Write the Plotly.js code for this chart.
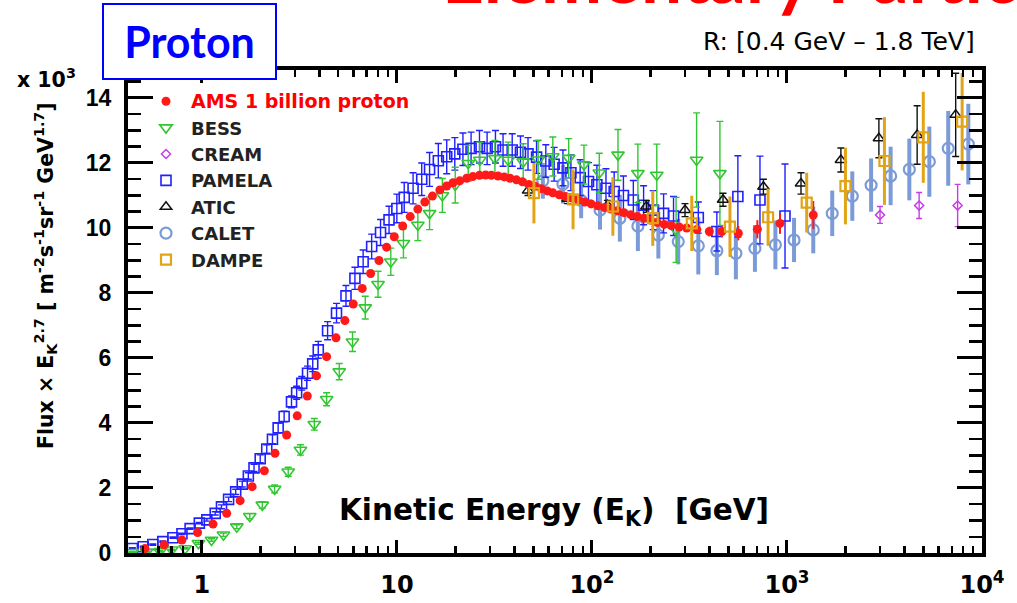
<!DOCTYPE html>
<html>
<head>
<meta charset="utf-8">
<script src="https://cdn.plot.ly/plotly-3.0.1.min.js"></script>
<style>html,body{margin:0;padding:0;background:#fff;}#chart{width:1017px;height:603px;}</style>
</head>
<body>
<div id="chart"></div>
<script>
// ---------------- data ----------------
const amsE = [0.51,0.64,0.79,0.95,1.14,1.34,1.57,1.81,2.09,2.37,2.72,3.08,3.47,3.87,4.36,4.87,5.41,5.97,6.64,7.33,
  8.09,8.85,9.69,10.7,11.7,12.8,13.9,15.2,16.6,18.0,19.4,21.0,22.8,
  24.5,26.5,28.5,30.5,33,35.5,38,41,44,47.5,51,55,59,63,68,73,79,85,92,99,
  107,116,125,135,146,158,171,185,200,216,235,255,280,306,345,400,463,563,705,921,1364];
const amsF = [0.14,0.25,0.40,0.63,0.89,1.22,1.61,2.04,2.53,3.07,3.63,4.22,4.83,5.45,6.04,6.62,7.15,7.66,8.14,8.60,
  9.00,9.41,9.73,10.06,10.35,10.58,10.80,10.98,11.17,11.29,11.39,11.45,11.53,
  11.58,11.62,11.63,11.62,11.60,11.57,11.53,11.48,11.42,11.34,11.28,11.21,11.14,11.08,11.02,10.97,10.92,10.86,10.80,10.74,
  10.68,10.63,10.58,10.53,10.47,10.41,10.35,10.30,10.24,10.17,10.11,10.07,10.03,10.00,9.95,9.89,9.89,9.84,9.96,10.14,10.40];
const amsErr = [0.05,0.05,0.05,0.05,0.05,0.05,0.05,0.05,0.05,0.05,0.05,0.05,0.05,0.05,0.05,0.05,0.05,0.05,0.05,0.05,
  0.05,0.05,0.05,0.05,0.05,0.05,0.05,0.05,0.05,0.05,0.05,0.05,0.05,
  0.05,0.05,0.05,0.05,0.05,0.05,0.05,0.05,0.05,0.05,0.05,0.05,0.05,0.05,0.05,0.05,0.05,0.05,0.05,0.05,
  0.05,0.05,0.05,0.05,0.05,0.05,0.05,0.05,0.05,0.05,0.05,0.05,0.05,0.05,0.12,0.15,0.18,0.22,0.28,0.32,0.43];

const bessE = [0.44,0.52,0.61,0.70,0.82,0.96,1.12,1.29,1.51,1.76,2.04,2.36,2.77,3.20,3.77,4.36,5.06,5.92,6.88,8.0,
  9.3,10.8,12.8,14.7,17.1,19.9,23.2,26.6,31.8,37.2,44.4,53,63,76,91,109,136,172,215,270,344,453];
const bessF = [0.02,0.03,0.05,0.10,0.14,0.30,0.40,0.56,0.81,1.13,1.48,1.97,2.50,3.17,3.96,4.73,5.58,6.50,7.55,8.27,
  8.96,9.53,10.09,10.45,11.00,11.32,11.99,12.09,12.14,12.09,12.04,12.10,12.20,12.15,11.95,11.70,12.25,11.68,11.63,9.94,12.09,11.68];
const bessErr = [0.02,0.02,0.02,0.02,0.02,0.03,0.04,0.05,0.06,0.08,0.10,0.12,0.14,0.16,0.18,0.20,0.25,0.30,0.35,0.40,
  0.42,0.45,0.48,0.50,0.52,0.55,0.55,0.55,0.55,0.55,0.55,0.60,0.60,0.60,0.60,0.60,0.78,0.90,0.95,1.00,1.45,1.60];

const creamE = [3000,4760,7500];
const creamF = [10.40,10.69,10.69];
const creamErr = [0.26,0.40,0.65];

const pamE = [0.44,0.50,0.56,0.63,0.71,0.79,0.87,0.97,1.06,1.17,1.26,1.37,1.49,1.61,1.73,1.85,1.99,
  2.15,2.30,2.46,2.64,2.88,3.06,3.25,3.48,3.70,3.95,4.41,4.90,5.48,6.09,6.71,7.42,8.24,9.11,9.99,10.9,
  12.1,13.4,14.7,16.3,18.0,19.8,21.8,24.0,26.5,29.0,32.0,35.0,39.0,43.0,47.0,52.0,58.0,
  64.0,71.0,78.0,87.0,96.0,106,118,130,145,163,184,206,233,262,351,437,560,727,977];
const pamF = [0.14,0.19,0.26,0.35,0.47,0.59,0.75,0.92,1.02,1.22,1.42,1.65,1.88,2.12,2.37,2.62,2.90,
  3.20,3.50,3.85,4.20,4.65,4.93,5.22,5.53,5.82,6.25,6.84,7.38,7.91,8.45,8.96,9.43,9.86,10.25,10.60,10.94,
  11.22,11.50,11.80,12.07,12.19,12.28,12.42,12.45,12.50,12.45,12.50,12.40,12.40,12.33,12.28,12.18,12.06,
  11.96,11.85,11.70,11.55,11.43,11.33,11.22,11.12,11.00,10.86,10.70,10.55,10.45,10.37,10.32,9.89,10.97,10.86,10.37];
const pamErr = [0.02,0.02,0.02,0.02,0.02,0.02,0.02,0.02,0.04,0.05,0.06,0.07,0.08,0.09,0.10,0.11,0.12,
  0.13,0.14,0.15,0.16,0.18,0.20,0.21,0.22,0.24,0.26,0.28,0.30,0.32,0.34,0.36,0.38,0.40,0.42,0.44,0.46,
  0.48,0.50,0.52,0.53,0.52,0.50,0.50,0.50,0.50,0.50,0.50,0.50,0.50,0.50,0.50,0.50,0.50,
  0.52,0.55,0.55,0.55,0.58,0.60,0.60,0.60,0.60,0.60,0.60,0.60,0.60,0.60,0.48,0.60,1.25,1.35,1.60];

const aticE = [47,75,120,190,300,470,757,1180,1890,2960,4650,7330];
const aticF = [11.15,10.90,10.70,10.66,10.55,10.87,11.27,11.37,12.09,12.76,12.86,13.48];
const aticErr = [0.15,0.15,0.15,0.18,0.20,0.20,0.23,0.33,0.37,0.60,0.90,1.28];

const caletE = [56,71,88,110,139,172,219,277,351,437,547,685,872,1087,1364,1706,2162,2700,3400,4240,5370,6710,8510];
const caletF = [11.45,11.35,10.85,10.55,10.30,10.06,9.78,9.58,9.45,9.30,9.22,9.37,9.48,9.63,9.94,10.45,10.98,11.32,11.60,11.80,12.04,12.45,12.58];
const caletErr = [0.55,0.60,0.55,0.60,0.72,0.77,0.72,0.70,0.88,0.75,0.80,0.72,0.75,0.68,0.72,0.70,0.76,0.82,0.90,0.95,1.08,1.15,1.24];

const dampeE = [50.4,80,128,205,325,510,800,1262,1994,3160,5000,7910];
const dampeF = [11.07,10.88,10.66,10.30,10.14,10.04,10.33,10.78,11.29,12.06,12.79,13.27];
const dampeErr = [0.93,0.92,0.90,0.85,0.85,0.93,0.88,0.92,1.18,1.35,1.40,1.50];

const xTickVals = [1,10,100,1000,10000];
const xTickText = ['1','10','10<sup>2</sup>','10<sup>3</sup>','10<sup>4</sup>'];

// ---------------- traces ----------------
function tr(name, x, y, err, rank, marker, ebColor, ebThick, ebWidth){
  return {type:'scatter', mode:'markers', name:name, x:x, y:y, legendrank:rank, legendgroup:'g'+rank,
    marker:marker,
    error_y:{type:'data', array:err, visible:true, color:ebColor, thickness:ebThick, width:ebWidth},
    cliponaxis:true};
}
const cCalet = '#7b9bd8', cDampe = '#e2a416', cPam = '#2020ff', cBess = '#33c633', cCream = '#c43ee8', cAtic = '#111111', cAms = '#ff1a1a';
const data = [
  tr('CALET', caletE, caletF, caletErr, 6, {symbol:'circle-open', size:11, color:cCalet, line:{width:2.2, color:cCalet}}, cCalet, 4, 0),
  tr('PAMELA', pamE, pamF, pamErr, 4, {symbol:'square-open', size:10, color:cPam, line:{width:1.6, color:cPam}}, cPam, 1.4, 3.5),
  tr('BESS', bessE, bessF, bessErr, 2, {symbol:'triangle-down-open', size:11, color:cBess, line:{width:1.6, color:cBess}}, cBess, 1.4, 3.5),
  tr('ATIC', aticE, aticF, aticErr, 5, {symbol:'triangle-up-open', size:10, color:cAtic, line:{width:1.5, color:cAtic}}, cAtic, 1.4, 3.5),
  tr('<span style="color:#ff0000;font-size:19px">AMS 1 billion proton</span>', amsE, amsF, amsErr, 1, {symbol:'circle', size:9, color:cAms}, cAms, 2, 0),
  tr('CREAM', creamE, creamF, creamErr, 3, {symbol:'diamond-open', size:7, color:cCream, line:{width:1.5, color:cCream}}, cCream, 1.4, 3),
  tr('DAMPE', dampeE, dampeF, dampeErr, 7, {symbol:'square-open', size:10, color:cDampe, line:{width:2.2, color:cDampe}}, cDampe, 3, 0)
];

// ---------------- layout ----------------
const L = 128, R = 35, T = 70, B = 50, W = 1017, H = 603;
const pw = W - L - R, ph = H - T - B;
const px = v => (v - L) / pw;          // pixel x -> paper x
const py = v => (H - B - v) / ph;      // pixel y -> paper y

const layout = {
  width: W, height: H,
  margin: {l:L, r:R, t:T, b:B, pad:0},
  paper_bgcolor: '#ffffff', plot_bgcolor: '#ffffff',
  showlegend: true,
  legend: {x: px(141), y: py(83), xanchor:'left', yanchor:'top', bgcolor:'rgba(0,0,0,0)',
    font:{family:'DejaVu Sans', size:18, weight:'bold', color:'#222222'},
    itemwidth: 40, tracegroupgap: 2, traceorder:'normal'},
  xaxis: {type:'log', range:[-0.379, 4.0], showgrid:false, zeroline:false,
    showline:true, linewidth:4, linecolor:'#000', mirror:'allticks', layer:'above traces',
    ticks:'inside', ticklen:13, tickwidth:3, tickcolor:'#000',
    tickmode:'array', tickvals:xTickVals, ticktext:xTickText,
    tickfont:{family:'DejaVu Sans', size:24, weight:'bold', color:'#000'},
    ticklabelstandoff: 7,
    minor:{ticks:'inside', ticklen:7, tickwidth:2.5, tickcolor:'#000', dtick:'D1', showgrid:false}},
  yaxis: {range:[0, 14.86], showgrid:false, zeroline:false,
    showline:true, linewidth:4, linecolor:'#000', mirror:'allticks', layer:'above traces',
    ticks:'inside', ticklen:25, tickwidth:3, tickcolor:'#000',
    tickmode:'linear', tick0:0, dtick:2,
    tickfont:{family:'Liberation Sans', size:23, weight:'bold', color:'#000'},
    ticklabelstandoff: 8,
    minor:{ticks:'inside', ticklen:13, tickwidth:2.5, tickcolor:'#000', dtick:0.5, showgrid:false}},
  annotations: [
    {xref:'paper', yref:'paper', x:px(440), y:py(-25), xanchor:'left', yanchor:'middle', showarrow:false,
      text:'Elementary Particles', font:{family:'Lato', size:73, weight:'bold', color:'#ff0000'}},
    {xref:'paper', yref:'paper', x:px(189.5), y:py(41.5), xanchor:'center', yanchor:'middle', showarrow:false,
      text:'Proton', width:171, height:73, bgcolor:'#ffffff', bordercolor:'#0000ff', borderwidth:2, borderpad:0,
      font:{family:'Lato', size:43, weight:'bold', color:'#0000ff'}},
    {xref:'paper', yref:'paper', x:px(977), y:py(42), xanchor:'right', yanchor:'middle', showarrow:false,
      text:'R: [0.4 GeV – 1.8 TeV]', font:{family:'DejaVu Sans', size:25, color:'#000'}},
    {xref:'paper', yref:'paper', x:px(15), y:py(78), xanchor:'left', yanchor:'middle', showarrow:false,
      text:'x 10<sup>3</sup>', font:{family:'DejaVu Sans', size:20.5, weight:'bold', color:'#000'}},
    {xref:'paper', yref:'paper', x:px(554), y:py(512), xanchor:'center', yanchor:'middle', showarrow:false,
      text:'Kinetic Energy (E<sub>K</sub>) &nbsp;[GeV]', font:{family:'DejaVu Sans', size:29.5, weight:'bold', color:'#000'}},
    {xref:'paper', yref:'paper', x:px(45), y:py(276), xanchor:'center', yanchor:'middle', showarrow:false, textangle:-90,
      text:'Flux × E<sub>K</sub><sup>2.7</sup> [ m<sup>-2</sup>s<sup>-1</sup>sr<sup>-1</sup> GeV<sup>1.7</sup>]',
      font:{family:'DejaVu Sans', size:20.5, weight:'bold', color:'#000'}}
  ]
};

Plotly.newPlot('chart', data, layout, {staticPlot:true, displayModeBar:false});
</script>
</body>
</html>
